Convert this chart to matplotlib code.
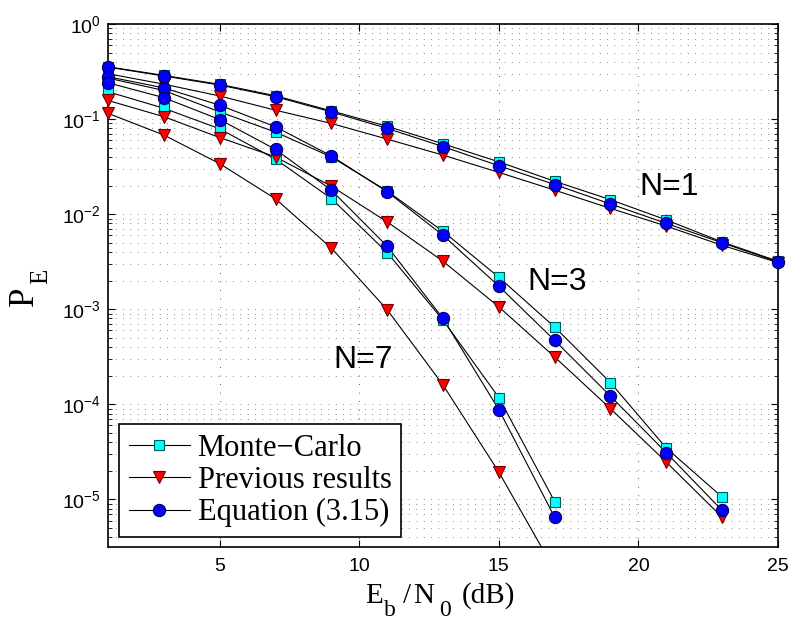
import numpy as np
import matplotlib
matplotlib.use("Agg")
import matplotlib.pyplot as plt
from matplotlib.lines import Line2D
from matplotlib.ticker import LogLocator, NullFormatter, FixedLocator

plt.rcParams['font.family'] = ['Liberation Sans', 'DejaVu Sans']

# --- Eb/N0 grid (dB) ---
ebn0_n1 = [1, 3, 5, 7, 9, 11, 13, 15, 17, 19, 21, 23, 25]
ebn0_n3 = [1, 3, 5, 7, 9, 11, 13, 15, 17, 19, 21, 23]
ebn0_n7 = [1, 3, 5, 7, 9, 11, 13, 15, 17]

# --- N=1 ---
mc_n1 = [0.355, 0.288, 0.232, 0.176, 0.122, 0.084, 0.055, 0.0355, 0.0222, 0.0142, 0.0087, 0.0051, 0.0032]
prev_n1 = [0.300, 0.233, 0.175, 0.124, 0.090, 0.0616, 0.0418, 0.0275, 0.0179, 0.0115, 0.0075, 0.0047, 0.0031]
eq_n1 = [0.352, 0.284, 0.228, 0.172, 0.119, 0.0798, 0.0514, 0.0323, 0.0205, 0.0128, 0.0080, 0.0050, 0.00315]

# --- N=3 ---
mc_n3 = [0.27, 0.20, 0.119, 0.073, 0.040, 0.0175, 0.0066, 2.17e-3, 6.5e-4, 1.69e-4, 3.47e-5, 1.06e-5]
prev_n3 = [0.157, 0.106, 0.064, 0.040, 0.0197, 0.0083, 0.0032, 1.06e-3, 3.15e-4, 9.0e-5, 2.47e-5, 6.5e-6]
eq_n3 = [0.279, 0.213, 0.140, 0.083, 0.041, 0.0172, 0.0060, 1.75e-3, 4.7e-4, 1.22e-4, 3.1e-5, 7.66e-6]

# --- N=7 ---
mc_n7 = [0.194, 0.130, 0.079, 0.038, 0.0146, 0.00395, 7.7e-4, 1.18e-4, 9.5e-6]
prev_n7 = [0.115, 0.068, 0.034, 0.0145, 0.0044, 0.00099, 1.6e-4, 1.94e-5, 1.8e-6]
eq_n7 = [0.241, 0.168, 0.099, 0.048, 0.0179, 0.0046, 8.0e-4, 8.8e-5, 6.5e-6]

legend_labels = ['Monte\u2212Carlo', 'Previous results', 'Equation (3.15)']

YMIN = 10 ** -5.5
XMIN, XMAX = 1, 25
W, H = 793, 620

# marker styles per method
styles = {
    'mc':   dict(marker='s', ms=7.2, mfc=(0, 1, 1), mec=(0, 0.35, 0.35), mew=0.8),
    'prev': dict(marker='v', ms=9.0, mfc=(1, 0, 0), mec=(0.45, 0, 0), mew=0.8),
    'eq':   dict(marker='o', ms=8.8, mfc=(0, 0, 1), mec=(0, 0, 0.35), mew=0.8),
}

series = [
    ('mc', ebn0_n1, mc_n1), ('mc', ebn0_n3, mc_n3), ('mc', ebn0_n7, mc_n7),
    ('prev', ebn0_n1, prev_n1), ('prev', ebn0_n3, prev_n3), ('prev', ebn0_n7, prev_n7),
    ('eq', ebn0_n1, eq_n1), ('eq', ebn0_n3, eq_n3), ('eq', ebn0_n7, eq_n7),
]


def px(x, y):
    """pixel position (from top-left) -> figure fraction"""
    return x / W, (H - y) / H


fig = plt.figure(figsize=(W / 100, H / 100), dpi=100)
ax = fig.add_axes([108 / W, 73 / H, 670 / W, 523 / H])
ax.set_yscale('log')

# lines are clipped to the axes, markers are not (so edge markers spill over the frame)
for kind, xs, ys in series:
    ax.plot(xs, ys, '-', color='k', lw=0.8, zorder=2)
for kind, xs, ys in series:
    xs = np.asarray(xs, float)
    ys = np.asarray(ys, float)
    keep = ys >= YMIN
    ax.plot(xs[keep], ys[keep], ls='none', clip_on=False, zorder=3, **styles[kind])

ax.set_xlim(XMIN, XMAX)
ax.set_ylim(YMIN, 1)

ax.xaxis.set_major_locator(FixedLocator([5, 10, 15, 20, 25]))
ax.set_xticklabels(['5', '10', '15', '20', '25'])
ax.yaxis.set_major_locator(LogLocator(base=10, numticks=10))
ax.yaxis.set_minor_locator(LogLocator(base=10, subs=np.arange(2, 10), numticks=20))
ax.yaxis.set_minor_formatter(NullFormatter())

ax.tick_params(which='both', direction='in', top=True, right=True, labelsize=14)
ax.tick_params(which='major', length=5, width=0.8)
ax.tick_params(which='minor', length=3, width=0.6)
ax.tick_params(axis='x', pad=8)
ax.tick_params(axis='y', pad=5)
for sp in ax.spines.values():
    sp.set_linewidth(1.2)

dots = (0, (0.8, 8))
ax.grid(True, which='major', axis='x', color='0.2', lw=0.7, ls=dots)
ax.grid(True, which='both', axis='y', color='0.25', lw=0.6, ls=dots)
ax.set_axisbelow(True)

# curve labels
ax.text(20.02, 0.0195, 'N=1', fontsize=23, ha='left', va='center')
ax.text(16.04, 1.94e-3, 'N=3', fontsize=23, ha='left', va='center')
ax.text(9.06, 2.9e-4, 'N=7', fontsize=23, ha='left', va='center')

# x label, serif with dropped subscripts
serif = 'Liberation Serif'
for s, x, y, size in [('E', 365, 603, 21), ('b', 384, 616, 17), ('/', 403, 603, 21),
                      ('N', 413, 603, 21), ('0', 439, 616, 17), ('(dB)', 462, 603, 21)]:
    fig.text(*px(x, y), s, family=serif, fontsize=size, ha='left', va='baseline')

# y label P_E, rotated
fig.text(*px(24, 296), 'P', family=serif, fontsize=25, ha='center', va='center', rotation=90)
fig.text(*px(41, 276), 'E', family=serif, fontsize=18, ha='center', va='center', rotation=90)

handles = [Line2D([], [], color='k', lw=0.8, **styles[k]) for k in ('mc', 'prev', 'eq')]
leg = ax.legend(handles, legend_labels, loc='lower left',
                bbox_to_anchor=((119 - 108) / 670, (547 - 537) / 523),
                borderaxespad=0, fancybox=False, framealpha=1, edgecolor='k',
                prop={'family': serif, 'size': 22},
                handlelength=2.0, handletextpad=0.25, labelspacing=0.1,
                borderpad=0.32)
leg.get_frame().set_linewidth(1.2)
leg.set_zorder(5)

fig.savefig('out.png', dpi=100)
